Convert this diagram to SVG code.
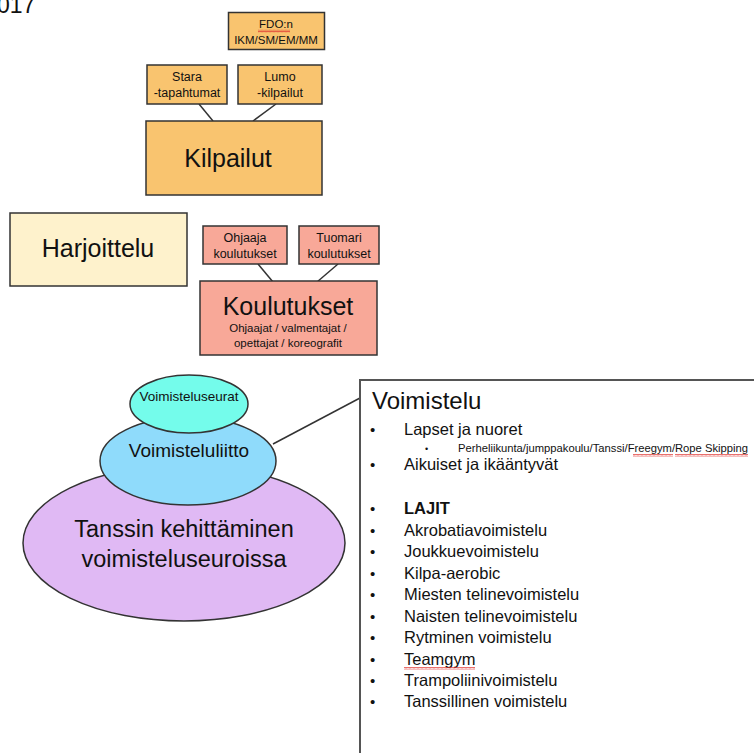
<svg xmlns="http://www.w3.org/2000/svg" width="754" height="753" viewBox="0 0 754 753">
<defs>
<style>
text{font-family:"Liberation Sans",Arial,sans-serif;fill:#111;}
.box{stroke:#333;stroke-width:1.5;}
.org{fill:#F9C46F;}
.sal{fill:#F8A898;}
.yel{fill:#FEF2CC;}
.conn line{stroke:#333;stroke-width:1.5;}
.c{text-anchor:middle;}
.li{font-size:16.5px;}
.bul{font-size:15px;}
</style>
<pattern id="sq" width="4" height="3" patternUnits="userSpaceOnUse">
<path d="M0 2.5 L1 0.5 L2 2.5 L3 0.5 L4 2.5" fill="none" stroke="#e0322e" stroke-width="0.7"/>
</pattern>
</defs>
<rect width="754" height="753" fill="#fff"/>
<text x="-3" y="13" font-size="23">017</text>

<g id="connectors" class="conn">
<line x1="199" y1="104" x2="213" y2="121"/>
<line x1="276" y1="104" x2="253" y2="121"/>
<line x1="258" y1="264" x2="273" y2="282"/>
<line x1="338" y1="264" x2="317" y2="282"/>
<line x1="273" y1="444" x2="360" y2="398"/>
</g>

<g id="fdo">
<rect class="box org" x="228.5" y="12.5" width="96" height="37"/>
<text class="c" x="276" y="28" font-size="11.5">FDO:n</text>
<text class="c" x="276" y="44" font-size="11.5">IKM/SM/EM/MM</text>
<rect x="258" y="29.5" width="32" height="3" fill="url(#sq)"/>
</g>
<g id="stara">
<rect class="box org" x="147" y="65" width="80" height="39"/>
<text class="c" x="187" y="81" font-size="12.5">Stara</text>
<text class="c" x="187" y="97" font-size="12.5">-tapahtumat</text>
</g>
<g id="lumo">
<rect class="box org" x="238" y="65" width="84" height="39"/>
<text class="c" x="280" y="81" font-size="12.5">Lumo</text>
<text class="c" x="280" y="97" font-size="12.5">-kilpailut</text>
</g>
<g id="kilpailut">
<rect class="box org" x="146" y="121" width="176" height="74"/>
<text class="c" x="228" y="167" font-size="25">Kilpailut</text>
</g>

<g id="harjoittelu">
<rect class="box yel" x="10" y="213" width="177" height="73"/>
<text class="c" x="98" y="257" font-size="25">Harjoittelu</text>
</g>

<g id="ohjaaja">
<rect class="box sal" x="203" y="226" width="84" height="38"/>
<text class="c" x="245" y="242" font-size="12.5">Ohjaaja</text>
<text class="c" x="245" y="258" font-size="12.5">koulutukset</text>
</g>
<g id="tuomari">
<rect class="box sal" x="299" y="226" width="80" height="38"/>
<text class="c" x="339" y="242" font-size="12.5">Tuomari</text>
<text class="c" x="339" y="258" font-size="12.5">koulutukset</text>
</g>
<g id="koulutukset">
<rect class="box sal" x="200" y="281" width="177" height="74"/>
<text class="c" x="288" y="315" font-size="25">Koulutukset</text>
<text class="c" x="288" y="332" font-size="11.5">Ohjaajat / valmentajat /</text>
<text class="c" x="288" y="347" font-size="11.5">opettajat / koreografit</text>
</g>

<g id="tanssin">
<ellipse class="box" cx="184" cy="543" rx="161" ry="78" fill="#E0B9F4"/>
<text class="c" x="184" y="537" font-size="23.5">Tanssin kehittäminen</text>
<text class="c" x="184" y="567" font-size="23.5">voimisteluseuroissa</text>
</g>
<g id="voimisteluliitto">
<ellipse class="box" cx="188" cy="461" rx="88" ry="44" fill="#8FDBFB"/>
<text class="c" x="189" y="457" font-size="19">Voimisteluliitto</text>
</g>
<g id="voimisteluseurat">
<ellipse class="box" cx="189" cy="404" rx="59" ry="29" fill="#74FCEB"/>
<text class="c" x="189" y="401" font-size="13.5">Voimisteluseurat</text>
</g>

<g id="voimistelu">
<path d="M360 754 V380 H755" fill="none" stroke="#555" stroke-width="2"/>
<text x="372" y="409" font-size="24">Voimistelu</text>
<text class="bul" x="370" y="435">•</text>
<text class="li" x="404" y="435">Lapset ja nuoret</text>
<text x="425" y="452" font-size="9">•</text>
<text x="458" y="452" font-size="10.5" textLength="290" lengthAdjust="spacingAndGlyphs">Perheliikunta/jumppakoulu/Tanssi/Freegym/Rope Skipping</text>
<rect x="633" y="454" width="40" height="3" fill="url(#sq)"/>
<rect x="675" y="454" width="73" height="3" fill="url(#sq)"/>
<text class="bul" x="370" y="470">•</text>
<text class="li" x="404" y="470">Aikuiset ja ikääntyvät</text>
<text class="bul" x="370" y="514">•</text>
<text class="li" x="404" y="514" font-weight="bold" font-size="15">LAJIT</text>
<text class="bul" x="370" y="536">•</text>
<text class="li" x="404" y="536">Akrobatiavoimistelu</text>
<text class="bul" x="370" y="557">•</text>
<text class="li" x="404" y="557">Joukkuevoimistelu</text>
<text class="bul" x="370" y="579">•</text>
<text class="li" x="404" y="579">Kilpa-aerobic</text>
<text class="bul" x="370" y="600">•</text>
<text class="li" x="404" y="600">Miesten telinevoimistelu</text>
<text class="bul" x="370" y="622">•</text>
<text class="li" x="404" y="622">Naisten telinevoimistelu</text>
<text class="bul" x="370" y="643">•</text>
<text class="li" x="404" y="643">Rytminen voimistelu</text>
<text class="bul" x="370" y="665">•</text>
<text class="li" x="404" y="665">Teamgym</text>
<rect x="404" y="667" width="71" height="3" fill="url(#sq)"/>
<text class="bul" x="370" y="686">•</text>
<text class="li" x="404" y="686">Trampoliinivoimistelu</text>
<text class="bul" x="370" y="707">•</text>
<text class="li" x="404" y="707">Tanssillinen voimistelu</text>
</g>
</svg>
